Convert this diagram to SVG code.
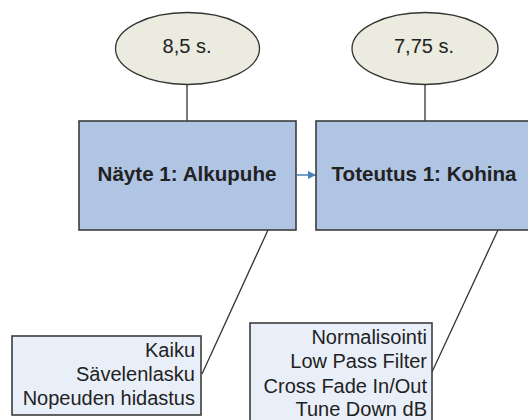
<svg xmlns="http://www.w3.org/2000/svg" width="528" height="420" viewBox="0 0 528 420">
<defs>
<style>
.ell{fill:#ebebdf;stroke:#333;stroke-width:1.3}
.box{fill:#b0c4e3;stroke:#3c3c3c;stroke-width:1.6}
.note{fill:#e9eff9;stroke:#3c3c3c;stroke-width:1.6}
.ln{stroke:#333;stroke-width:1.3;fill:none}
.t{font-family:"Liberation Sans",Arial,sans-serif;font-size:20px;fill:#222}
.b{font-weight:bold;text-anchor:middle;font-size:20.6px}
.c{text-anchor:middle}
.r{text-anchor:end}
</style>
<marker id="ah" viewBox="0 0 10 10" refX="10" refY="5" markerWidth="9" markerHeight="8" orient="auto" markerUnits="userSpaceOnUse">
<path d="M0,0 L10,5 L0,10 z" fill="#4a7ebb"/>
</marker>
</defs>
<rect width="528" height="420" fill="#fff"/>
<g id="connectors">
<line class="ln" x1="187" y1="85" x2="187" y2="121"/>
<line class="ln" x1="425" y1="85" x2="425" y2="121"/>
<line class="ln" x1="268" y1="230" x2="202" y2="374"/>
<line class="ln" x1="498" y1="230" x2="432" y2="372"/>
<line x1="297" y1="175" x2="316" y2="175" stroke="#4a7ebb" stroke-width="1.5" marker-end="url(#ah)"/>
</g>
<g id="dur1">
<ellipse class="ell" cx="187.5" cy="48.5" rx="72" ry="36"/>
<text class="t c" x="187" y="53">8,5 s.</text>
</g>
<g id="dur2">
<ellipse class="ell" cx="425" cy="48.5" rx="73" ry="36"/>
<text class="t c" x="424" y="53">7,75 s.</text>
</g>
<g id="sample1">
<rect class="box" x="79" y="121" width="217" height="109"/>
<text class="t b" x="187" y="181">Näyte 1: Alkupuhe</text>
</g>
<g id="impl1">
<rect class="box" x="316" y="121" width="230" height="109"/>
<text class="t b" x="424" y="181">Toteutus 1: Kohina</text>
</g>
<g id="note1">
<rect class="note" x="12" y="336" width="189" height="79"/>
<text class="t r" x="195" y="357">Kaiku</text>
<text class="t r" x="195" y="381">Sävelenlasku</text>
<text class="t r" x="195" y="405">Nopeuden hidastus</text>
</g>
<g id="note2">
<rect class="note" x="250" y="323" width="182" height="110"/>
<text class="t r" x="427" y="344">Normalisointi</text>
<text class="t r" x="427" y="368">Low Pass Filter</text>
<text class="t r" x="427" y="393">Cross Fade In/Out</text>
<text class="t r" x="427" y="416">Tune Down dB</text>
</g>
</svg>
